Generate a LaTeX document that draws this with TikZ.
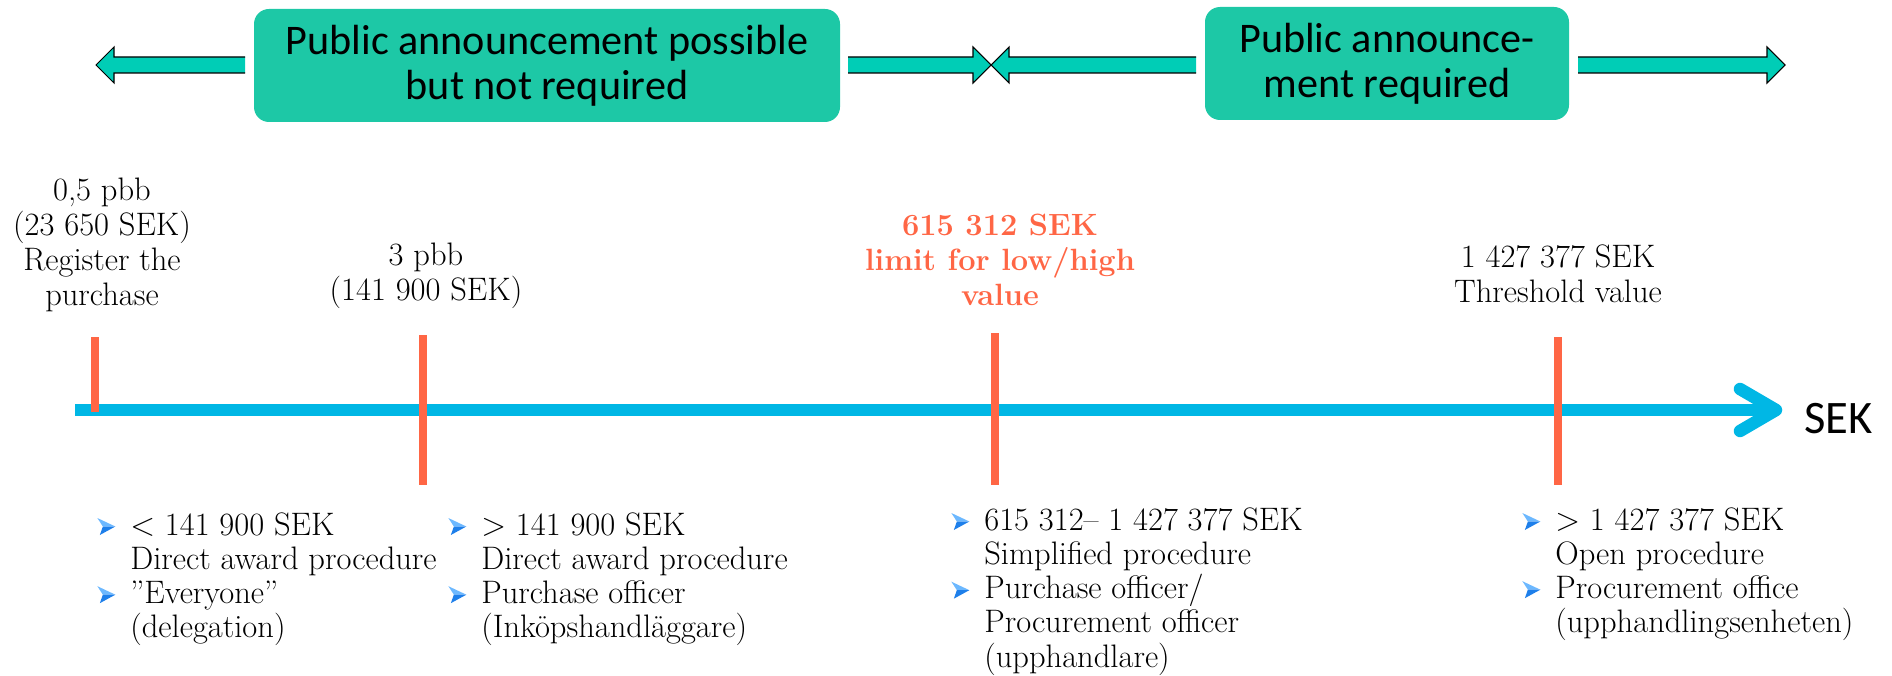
\documentclass[tikz,border=0pt]{standalone}
\usepackage{fontspec}
\usepackage{xcolor}
\usepackage{tikz}
\newfontfamily\boxfont{Carlito}
\definecolor{boxteal}{HTML}{1DC8A6}
\definecolor{arrteal}{HTML}{00CDB6}
\definecolor{axisblue}{HTML}{00B7E5}
\definecolor{limitred}{HTML}{FF6645}
\definecolor{bulblue}{HTML}{1E7FEA}
\definecolor{bullight}{HTML}{6CB8FF}
\newcommand{\bul}{\tikz[baseline=0pt]{%
    \fill[bullight] (0,0.34) -- (0.36,0.17) -- (0.11,0.17) -- cycle;
    \fill[bulblue] (0.11,0.17) -- (0.36,0.17) -- (0.05,0) -- cycle;}}

\begin{document}
\begin{tikzpicture}[
    lbl/.style={font=\fontsize{18.5}{19.9}\selectfont, align=center, inner sep=0pt, anchor=south},
    redlbl/.style={lbl, text=limitred, font=\fontsize{17.5}{19.9}\selectfont\bfseries},
    lst/.style={font=\fontsize{18.5}{19.4}\selectfont, inner sep=0pt, anchor=base west},
    annbox/.style={fill=boxteal, rounded corners=0.3cm, align=center, inner sep=0pt,
        font=\boxfont\fontsize{24}{25.6}\selectfont},
    limitbar/.style={limitred, line width=4.6pt},
    arrline/.style={line width=0.6pt, line join=miter}
]
\useasboundingbox (0,0) rectangle (37.84,13.5);

% announcement boxes
\node[annbox, minimum width=11.72cm, minimum height=2.26cm] (possible) at (10.94,12.19)
    {Public announcement possible\\but not required};
\node[annbox, minimum width=7.28cm, minimum height=2.26cm] (required) at (27.74,12.23)
    {Public announce-\\ment required};

% block arrows (tail/tip/head)
\foreach \ta/\tb/\hd in {4.90/1.92/-0.36, 16.96/19.82/0.36, 23.92/19.82/-0.36, 31.56/35.70/0.36}
    \fill[arrteal] (\ta,12.36) -- ({\tb-(\hd)},12.36) -- ({\tb-(\hd)},12.56) -- (\tb,12.2)
        -- ({\tb-(\hd)},11.84) -- ({\tb-(\hd)},12.04) -- (\ta,12.04) -- cycle;
\foreach \ta/\tb/\hd in {4.90/1.92/-0.36, 16.96/19.82/0.36, 23.92/19.82/-0.36, 31.56/35.70/0.36}
    \draw[arrline] (\ta,12.36) -- ({\tb-(\hd)},12.36) -- ({\tb-(\hd)},12.56) -- (\tb,12.2)
        -- ({\tb-(\hd)},11.84) -- ({\tb-(\hd)},12.04) -- (\ta,12.04);

% axis
\draw[axisblue, line width=7.1pt] (1.50,5.30) -- (35.50,5.30);
\draw[axisblue, line width=7.1pt, line cap=round, line join=round] (34.80,5.72) -- (35.52,5.30) -- (34.80,4.88);
\node[font=\boxfont\fontsize{26.5}{26.5}\selectfont, inner sep=0pt, anchor=base west] (sek) at (36.08,4.84) {SEK};

% limits
\coordinate (t1) at (1.90,6.76);
\coordinate (t2) at (8.46,6.80);
\coordinate (t3) at (19.90,6.84);
\coordinate (t4) at (31.16,6.76);
\draw[limitbar] (t1) -- (1.90,5.26);
\draw[limitbar] (t2) -- (8.46,3.80);
\draw[limitbar] (t3) -- (19.90,3.80);
\draw[limitbar] (t4) -- (31.16,3.80);

\node[lbl] (half) at (2.04,7.25) {0,5 pbb\\(23 650 SEK)\\Register the\\purchase};
\node[lbl] (three) at (8.52,7.33) {3 pbb\\(141 900 SEK)};
\node[redlbl] (low) at (20.00,7.38) {615 312 SEK\\limit for low/high\\value};
\node[lbl] (thresh) at (31.16,7.44) {1 427 377 SEK\\Threshold value};

% procedures
\node[lst] (proc1) at (1.94,2.80) {\begin{tabular}[t]{@{}l@{}l@{}}
    \makebox[0.66cm][l]{\bul} & < 141 900 SEK\\ & Direct award procedure\\
    \makebox[0.66cm][l]{\bul} & ”Everyone”\\ & (delegation)\end{tabular}};
\node[lst] (proc2) at (8.96,2.80) {\begin{tabular}[t]{@{}l@{}l@{}}
    \makebox[0.66cm][l]{\bul} & > 141 900 SEK\\ & Direct award procedure\\
    \makebox[0.66cm][l]{\bul} & Purchase officer\\ & (Inköpshandläggare)\end{tabular}};
\node[lst] (proc3) at (19.02,2.90) {\begin{tabular}[t]{@{}l@{}l@{}}
    \makebox[0.66cm][l]{\bul} & 615 312– 1 427 377 SEK\\ & Simplified procedure\\
    \makebox[0.66cm][l]{\bul} & Purchase officer/\\ & Procurement officer\\ & (upphandlare)\end{tabular}};
\node[lst] (proc4) at (30.44,2.90) {\begin{tabular}[t]{@{}l@{}l@{}}
    \makebox[0.66cm][l]{\bul} & > 1 427 377 SEK\\ & Open procedure\\
    \makebox[0.66cm][l]{\bul} & Procurement office\\ & (upphandlingsenheten)\end{tabular}};
\end{tikzpicture}
\end{document}
